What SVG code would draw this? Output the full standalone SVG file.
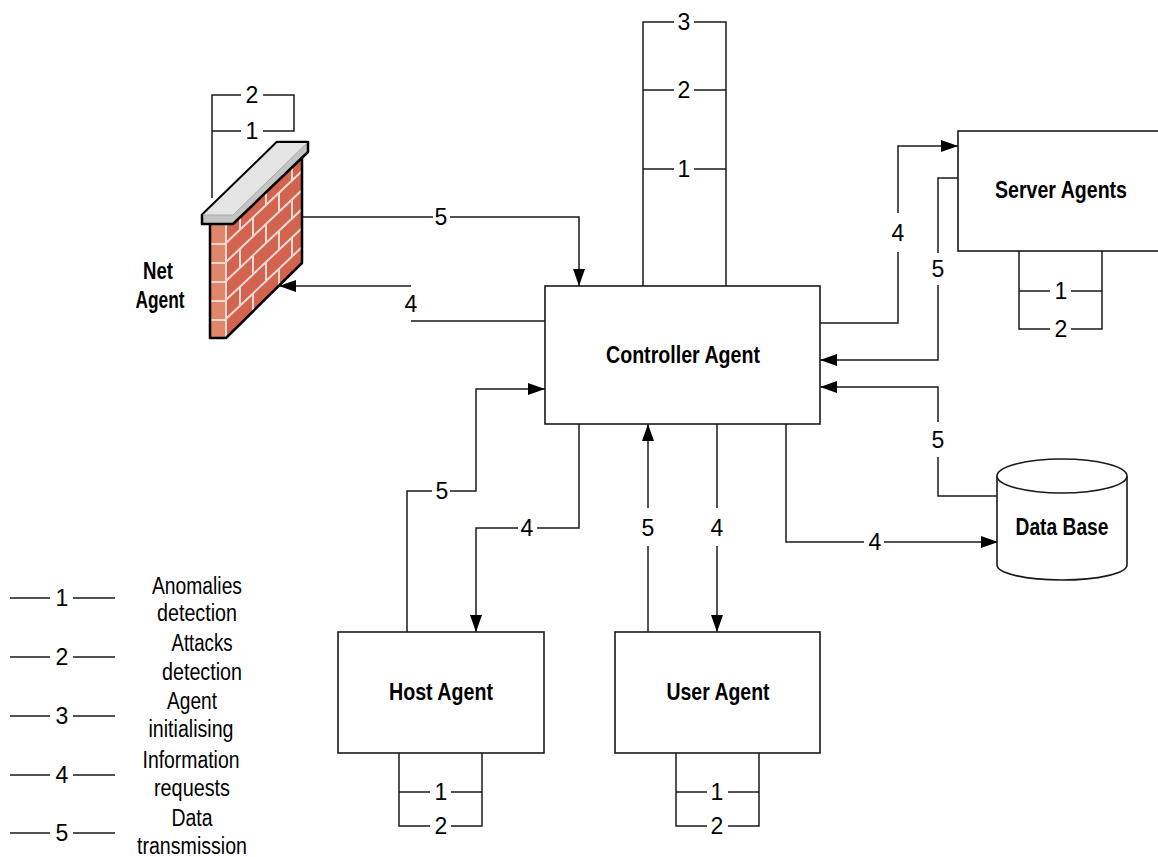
<svg xmlns="http://www.w3.org/2000/svg" width="1158" height="857" viewBox="0 0 1158 857">
<defs>
<style>
.ln{fill:none;stroke:#1a1a1a;stroke-width:1.5}
.box{fill:#fff;stroke:#1a1a1a;stroke-width:1.6}
.t{font-family:"Liberation Sans Narrow","Liberation Sans",Arial,sans-serif;font-size:23px;fill:#000;text-anchor:middle}
.b{font-weight:bold}
.n{font-family:"Liberation Sans Narrow","Liberation Sans",Arial,sans-serif;font-size:23px;fill:#000;text-anchor:middle}
.mortar{stroke:#efd9d2;stroke-width:2;fill:none}
</style>
<marker id="ar" markerUnits="userSpaceOnUse" markerWidth="17" markerHeight="12" refX="17" refY="6" orient="auto">
<path d="M0,0 L17,6 L0,12 z" fill="#000"/>
</marker>
<clipPath id="wallclip"><polygon points="226,224 302,152 302,263 226,338"/></clipPath>
</defs>
<rect width="1158" height="857" fill="#fff"/>

<g id="connectors">
<!-- Net agent 5 -->
<path class="ln" d="M300,217 H433"/>
<path class="ln" d="M450,217 H579 V286" marker-end="url(#ar)"/>
<text class="n" x="441" y="225">5</text>
<!-- Net agent 4 -->
<path class="ln" d="M545,321 H411"/>
<path class="ln" d="M411,286 H279" marker-end="url(#ar)"/>
<text class="n" x="411" y="312">4</text>
<!-- Controller loops -->
<path class="ln" d="M643,286 V22 H674 M694,22 H726 V286"/>
<path class="ln" d="M643,90 H674 M694,90 H726"/>
<path class="ln" d="M643,169 H674 M694,169 H726"/>
<text class="n" x="684" y="30">3</text>
<text class="n" x="684" y="98">2</text>
<text class="n" x="684" y="177">1</text>
<!-- Server 4 -->
<path class="ln" d="M820,323 H898 V252"/>
<path class="ln" d="M898,213 V146 H958" marker-end="url(#ar)"/>
<text class="n" x="898" y="241">4</text>
<!-- Server 5 -->
<path class="ln" d="M958,178 H938 V253"/>
<path class="ln" d="M938,285 V360 H820" marker-end="url(#ar)"/>
<text class="n" x="938" y="277">5</text>
<!-- Server loops -->
<path class="ln" d="M1019,251 V329 H1050 M1071,329 H1102 V251"/>
<path class="ln" d="M1019,291 H1050 M1071,291 H1102"/>
<text class="n" x="1061" y="299">1</text>
<text class="n" x="1061" y="337">2</text>
<!-- DB 5 -->
<path class="ln" d="M998,496 H938 V457"/>
<path class="ln" d="M938,422 V387 H820" marker-end="url(#ar)"/>
<text class="n" x="938" y="448">5</text>
<!-- DB 4 -->
<path class="ln" d="M786,424 V542 H864"/>
<path class="ln" d="M884,542 H998" marker-end="url(#ar)"/>
<text class="n" x="875" y="550">4</text>
<!-- Host 5 -->
<path class="ln" d="M407,632 V491 H432"/>
<path class="ln" d="M450,491 H476 V389 H545" marker-end="url(#ar)"/>
<text class="n" x="442" y="499">5</text>
<!-- Host 4 -->
<path class="ln" d="M579,424 V528 H537"/>
<path class="ln" d="M518,528 H476 V632" marker-end="url(#ar)"/>
<text class="n" x="527" y="536">4</text>
<!-- User 5 -->
<path class="ln" d="M648,632 V546"/>
<path class="ln" d="M648,508 V424" marker-end="url(#ar)"/>
<text class="n" x="648" y="536">5</text>
<!-- User 4 -->
<path class="ln" d="M717,424 V508"/>
<path class="ln" d="M717,546 V632" marker-end="url(#ar)"/>
<text class="n" x="717" y="536">4</text>
<!-- Host loops -->
<path class="ln" d="M399,753 V826 H430 M451,826 H482 V753"/>
<path class="ln" d="M399,792 H430 M451,792 H482"/>
<text class="n" x="441" y="800">1</text>
<text class="n" x="441" y="834">2</text>
<!-- User loops -->
<path class="ln" d="M676,753 V826 H707 M728,826 H759 V753"/>
<path class="ln" d="M676,792 H707 M728,792 H759"/>
<text class="n" x="717" y="800">1</text>
<text class="n" x="717" y="834">2</text>
<!-- Net loops -->
<path class="ln" d="M212,198 V95 H241 M263,95 H294 V131 H263 M241,131 H212"/>
<text class="n" x="252" y="103">2</text>
<text class="n" x="252" y="139">1</text>
</g>

<g id="net-agent">
<polygon points="210,224 226,224 226,338 210,338" fill="#e0866a"/>
<polygon points="226,224 302,152 302,263 226,338" fill="#d2644f"/>
<g class="mortar">
<path d="M210,244 H226 M210,263 H226 M210,282 H226 M210,301 H226 M210,320 H226"/>
<path d="M226,224 V338"/>
</g>
<g class="mortar" clip-path="url(#wallclip)">
<path d="M226,243 L302,171 M226,262 L302,190 M226,281 L302,209 M226,300 L302,228 M226,319 L302,247"/>
<path d="M240,211 V230 M266,186 V205 M292,162 V181"/>
<path d="M253,217 V236 M279,193 V212"/>
<path d="M240,249 V268 M266,224 V243 M292,200 V219"/>
<path d="M253,255 V274 M279,231 V250"/>
<path d="M240,287 V306 M266,262 V281 M292,238 V257"/>
<path d="M253,293 V312 M279,269 V288"/>
</g>
<path d="M210,224 V338 H226 L302,263 V152" fill="none" stroke="#000" stroke-width="2.5" stroke-linejoin="round"/>
<polygon points="202,215 277,142 308,142 308,152 233,224 202,224" fill="#c4c4c4" stroke="#000" stroke-width="2.5" stroke-linejoin="round"/>
<polygon points="203,215 277,143 307,143 233,215" fill="#e4e4e4"/>
<path d="M203,215 H233 L307,143" fill="none" stroke="#a8a8a8" stroke-width="1"/>
<text class="t b" x="158" y="279" textLength="30" lengthAdjust="spacingAndGlyphs">Net</text>
<text class="t b" x="160" y="308" textLength="49" lengthAdjust="spacingAndGlyphs">Agent</text>
</g>

<g id="controller-agent">
<rect class="box" x="545" y="286" width="275" height="138"/>
<text class="t b" x="683" y="363" textLength="154" lengthAdjust="spacingAndGlyphs">Controller Agent</text>
</g>

<g id="server-agents">
<rect class="box" x="958" y="131" width="220" height="120"/>
<text class="t b" x="1061" y="198" textLength="132" lengthAdjust="spacingAndGlyphs">Server Agents</text>
</g>

<g id="data-base">
<path d="M997,476 V565 A65,15 0 0 0 1127,565 V476" fill="#fff" stroke="#1a1a1a" stroke-width="1.6"/>
<ellipse cx="1062" cy="476" rx="65" ry="17" fill="#fff" stroke="#1a1a1a" stroke-width="1.6"/>
<text class="t b" x="1062" y="535" textLength="93" lengthAdjust="spacingAndGlyphs">Data Base</text>
</g>

<g id="host-agent">
<rect class="box" x="338" y="632" width="206" height="121"/>
<text class="t b" x="441" y="700" textLength="104" lengthAdjust="spacingAndGlyphs">Host Agent</text>
</g>

<g id="user-agent">
<rect class="box" x="615" y="632" width="205" height="121"/>
<text class="t b" x="718" y="700" textLength="103" lengthAdjust="spacingAndGlyphs">User Agent</text>
</g>

<g id="legend">
<path class="ln" d="M10,598 H50 M73,598 H115 M10,657 H50 M73,657 H115 M10,716 H50 M73,716 H115 M10,775 H50 M73,775 H115 M10,833 H50 M73,833 H115"/>
<text class="n" x="62" y="606">1</text>
<text class="n" x="62" y="665">2</text>
<text class="n" x="62" y="724">3</text>
<text class="n" x="62" y="783">4</text>
<text class="n" x="62" y="841">5</text>
<text class="t" x="197" y="594" textLength="90" lengthAdjust="spacingAndGlyphs">Anomalies</text>
<text class="t" x="197" y="621" textLength="80" lengthAdjust="spacingAndGlyphs">detection</text>
<text class="t" x="202" y="651" textLength="61" lengthAdjust="spacingAndGlyphs">Attacks</text>
<text class="t" x="202" y="680" textLength="80" lengthAdjust="spacingAndGlyphs">detection</text>
<text class="t" x="192" y="709" textLength="50" lengthAdjust="spacingAndGlyphs">Agent</text>
<text class="t" x="191" y="737" textLength="85" lengthAdjust="spacingAndGlyphs">initialising</text>
<text class="t" x="191" y="768" textLength="97" lengthAdjust="spacingAndGlyphs">Information</text>
<text class="t" x="192" y="796" textLength="76" lengthAdjust="spacingAndGlyphs">requests</text>
<text class="t" x="192" y="826" textLength="41" lengthAdjust="spacingAndGlyphs">Data</text>
<text class="t" x="192" y="854" textLength="110" lengthAdjust="spacingAndGlyphs">transmission</text>
</g>
</svg>
